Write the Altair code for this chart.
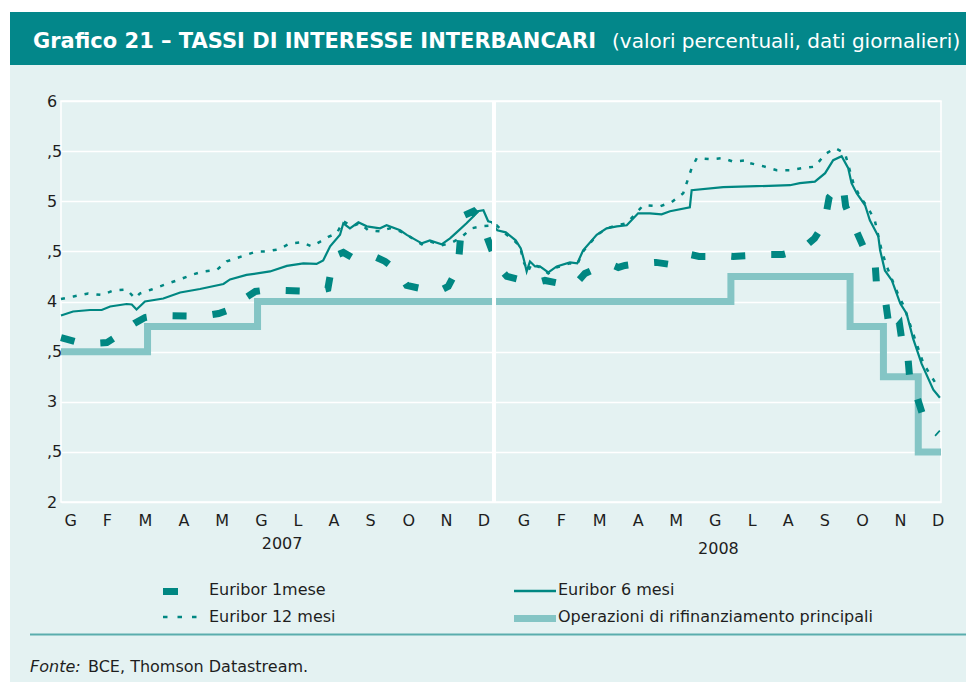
import altair as alt
import pandas as pd

# ---------------- data (x = months since 1 Jan 2007, y = percent) ----------------
e1_m = [0.00, 0.40, 0.80, 1.25, 1.55, 2.00, 2.29, 2.62, 3.44, 3.85, 4.30, 4.61, 4.96, 5.30,
        5.70, 6.05, 6.93, 7.28, 7.40, 7.50, 7.70, 7.93, 8.20, 8.48, 8.84, 9.19, 9.43, 9.80,
        10.20, 10.40, 10.56, 10.83, 10.92, 11.00, 11.25, 11.45, 11.65, 11.92, 12.16, 12.50,
        12.80, 13.00, 13.20, 13.60, 14.02, 14.29, 14.60, 15.00, 15.20, 15.38, 15.80, 16.23,
        16.60, 16.90, 17.15, 17.40, 17.60, 18.00, 18.33, 18.85, 19.30, 19.69, 20.00, 20.30,
        20.55, 20.82, 20.95, 21.15, 21.33, 21.40, 21.60, 21.90, 22.20, 22.25, 22.50, 22.61,
        22.75, 22.87, 22.93, 23.08, 23.15, 23.30, 23.56, 23.92]
e1_v = [3.64, 3.60, 3.58, 3.59, 3.66, 3.78, 3.84, 3.86, 3.855, 3.855, 3.88, 3.92, 4.02, 4.10,
        4.12, 4.11, 4.10, 4.13, 4.38, 4.46, 4.49, 4.44, 4.45, 4.46, 4.40, 4.30, 4.16, 4.13,
        4.15, 4.12, 4.15, 4.34, 4.75, 4.86, 4.90, 4.82, 4.61, 4.35, 4.25, 4.22,
        4.21, 4.19, 4.21, 4.18, 4.17, 4.28, 4.33, 4.37, 4.34, 4.36, 4.38, 4.39,
        4.37, 4.42, 4.47, 4.45, 4.45, 4.46, 4.45, 4.46, 4.47, 4.47, 4.50, 4.55,
        4.63, 4.78, 5.04, 5.13, 5.15, 4.95, 4.78, 4.53, 4.40, 4.12, 3.97, 3.68,
        3.72, 3.77, 3.62, 3.52, 3.22, 3.10, 2.80, 2.68]

e6_m = [0.00, 0.33, 0.79, 1.11, 1.34, 1.79, 1.93, 2.06, 2.29, 2.79, 3.25, 3.79, 4.43, 4.61,
        5.06, 5.70, 6.16, 6.61, 6.97, 7.15, 7.34, 7.61, 7.70, 7.88, 8.11, 8.34, 8.70, 8.88,
        9.25, 9.43, 9.84, 10.06, 10.38, 10.61, 10.79, 11.06, 11.25, 11.36, 11.52, 11.65,
        11.75, 11.90, 12.13, 12.40, 12.54, 12.63, 12.70, 12.79, 12.93, 13.06, 13.29, 13.52,
        13.88, 14.08, 14.24, 14.61, 14.88, 15.16, 15.43, 15.74, 16.06, 16.38, 16.61, 17.15,
        17.20, 18.06, 18.97, 19.88, 20.15, 20.56, 20.84, 21.06, 21.29, 21.47, 21.56, 21.70,
        21.93, 22.06, 22.29, 22.34, 22.47, 22.66, 22.89, 23.06, 23.24, 23.47, 23.79, 23.97]
e6_v = [3.86, 3.90, 3.915, 3.915, 3.95, 3.975, 3.97, 3.92, 4.00, 4.03, 4.09, 4.125, 4.175, 4.22,
        4.265, 4.30, 4.355, 4.38, 4.375, 4.41, 4.55, 4.665, 4.78, 4.73, 4.79, 4.75, 4.73, 4.76,
        4.71, 4.665, 4.58, 4.61, 4.57, 4.63, 4.69, 4.78, 4.85, 4.90, 4.91, 4.80,
        4.79, 4.71, 4.69, 4.61, 4.53, 4.41, 4.30, 4.40, 4.35, 4.35, 4.29, 4.35,
        4.39, 4.38, 4.51, 4.665, 4.73, 4.75, 4.76, 4.88, 4.88, 4.87, 4.90, 4.94,
        5.11, 5.14, 5.15, 5.16, 5.18, 5.195, 5.28, 5.41, 5.45, 5.33, 5.18, 5.08,
        4.96, 4.81, 4.65, 4.51, 4.31, 4.21, 3.98, 3.88, 3.63, 3.38, 3.12, 3.04]

e12_m = [0.00, 0.34, 0.74, 1.11, 1.43, 1.79, 2.02, 2.15, 2.47, 2.88, 3.20, 3.56, 3.88, 4.25,
         4.52, 4.93, 5.34, 5.61, 5.93, 6.25, 6.56, 6.84, 7.06, 7.29, 7.52, 7.70, 7.93, 8.15,
         8.38, 8.70, 8.97, 9.25, 9.52, 9.84, 10.06, 10.38, 10.61, 10.88, 11.20, 11.47, 11.88,
         12.11, 12.38, 12.52, 12.61, 12.74, 12.84, 13.06, 13.29, 13.52, 13.88, 14.08, 14.24,
         14.61, 14.88, 15.16, 15.43, 15.88, 16.34, 16.65, 16.97, 17.20, 17.34, 17.70, 18.06,
         18.33, 18.74, 18.79, 19.15, 19.52, 19.88, 20.20, 20.56, 20.84, 21.11, 21.38, 21.61,
         21.79, 22.02, 22.20, 22.38, 22.51, 22.82, 22.99, 23.24, 23.52, 23.93]
e12_v = [4.025, 4.05, 4.08, 4.065, 4.11, 4.12, 4.03, 4.08, 4.12, 4.175, 4.215, 4.265, 4.30, 4.315,
         4.40, 4.45, 4.50, 4.50, 4.52, 4.58, 4.59, 4.55, 4.595, 4.645, 4.68, 4.80, 4.75, 4.78,
         4.71, 4.70, 4.73, 4.70, 4.645, 4.57, 4.60, 4.56, 4.58, 4.63, 4.73, 4.75, 4.76,
         4.68, 4.60, 4.55, 4.40, 4.30, 4.38, 4.34, 4.28, 4.34, 4.38, 4.37, 4.50,
         4.66, 4.73, 4.76, 4.78, 4.96, 4.95, 4.99, 5.08, 5.33, 5.43, 5.42, 5.43,
         5.395, 5.41, 5.38, 5.35, 5.31, 5.31, 5.33, 5.345, 5.47, 5.53, 5.48, 5.18,
         5.045, 4.93, 4.80, 4.51, 4.36, 4.08, 3.95, 3.68, 3.38, 3.14]

mro_m = [0.00, 2.36, 5.36, 18.27, 21.52, 22.43, 23.38, 24.00]
mro_v = [3.50, 3.75, 4.00, 4.25, 3.75, 3.25, 2.50, 2.50]

month_labels = ["G", "F", "M", "A", "M", "G", "L", "A", "S", "O", "N", "D",
                "G", "F", "M", "A", "M", "G", "L", "A", "S", "O", "N", "D"]
month_pos = [0.25, 1.25, 2.29, 3.34, 4.38, 5.45, 6.45, 7.43, 8.43, 9.47, 10.50, 11.52,
             12.61, 13.63, 14.68, 15.73, 16.76, 17.83, 18.84, 19.82, 20.82, 21.85, 22.88, 23.91]
year_labels = ["2007", "2008"]
year_pos = [6.03, 17.93]
year_break = [11.81]

y_ticks = [2.0, 2.5, 3.0, 3.5, 4.0, 4.5, 5.0, 5.5, 6.0]
y_tick_labels = ["2", ",5", "3", ",5", "4", ",5", "5", ",5", "6"]

series_names = ["Euribor 1mese", "Euribor 6 mesi", "Euribor 12 mesi",
                "Operazioni di rifinanziamento principali"]
title_bold = "Grafico 21 \u2013 TASSI DI INTERESSE INTERBANCARI"
title_rest = "(valori percentuali, dati giornalieri)"
source_lead = "Fonte:"
source_rest = "BCE, Thomson Datastream."

# ---------------- style ----------------
FONT = "DejaVu Sans"
DARK = "#008782"
LIGHT = "#84c5c5"
BAND = "#03878a"
BG = "#e4f2f2"
TXT = "#1e1e1e"
W, H = 880, 401

def pos_expr(vals, labs):
    v = ",".join(repr(float(x)) for x in vals)
    l = ",".join("'" + s + "'" for s in labs)
    return f"[{l}][indexof([{v}], datum.value)]"

x_enc = alt.X("m:Q", scale=alt.Scale(domain=[0, 24], nice=False, zero=False),
              axis=alt.Axis(values=month_pos, labelExpr=pos_expr(month_pos, month_labels),
                            title=None, grid=False, ticks=False, domain=False,
                            labelFont=FONT, labelFontSize=16, labelColor=TXT,
                            labelPadding=18, labelBaseline="middle", labelAngle=0))
y_enc = alt.Y("v:Q", scale=alt.Scale(domain=[2, 6], nice=False, zero=False),
              axis=alt.Axis(values=y_ticks, labelExpr=pos_expr(y_ticks, y_tick_labels),
                            title=None, grid=True, gridColor="white", gridWidth=1.5,
                            gridOpacity=1, ticks=False, domain=False,
                            labelFont=FONT, labelFontSize=16, labelColor=TXT,
                            labelAlign="left", labelPadding=14.5, labelBaseline="middle"))

def df(mx, vy):
    return pd.DataFrame({"m": mx, "v": vy})

one = pd.DataFrame({"k": [0]})

def rect(x, x2, y, y2, color):
    return alt.Chart(one).mark_rect(color=color).encode(
        x=alt.value(x), x2=alt.value(x2), y=alt.value(y), y2=alt.value(y2))

def rule(x, x2, y, color, width, dash=None):
    kw = dict(color=color, strokeWidth=width, strokeCap="butt")
    if dash:
        kw["strokeDash"] = dash
    return alt.Chart(one).mark_rule(**kw).encode(
        x=alt.value(x), x2=alt.value(x2), y=alt.value(y))

def text(s, x, y, size=16, weight="normal", style="normal", color=TXT, baseline="middle"):
    return alt.Chart(pd.DataFrame({"t": [s]})).mark_text(
        font=FONT, fontSize=size, fontWeight=weight, fontStyle=style, color=color,
        align="left", baseline=baseline).encode(
        text="t:N", x=alt.value(x), y=alt.value(y))

# decorations (view coordinates: origin = top-left of plot)
deco = [
    rect(-53, -51, -93, 581, "white"),
    rect(-53, 905, -93, -89, "white"),
    rect(-51, 905, -89, -36, BAND),
    text(title_bold, -28, -53, size=21, weight="bold", color="white", baseline="alphabetic"),
    text(title_rest, 551, -53, size=20, color="white", baseline="alphabetic"),
]

mro = alt.Chart(df(mro_m, mro_v)).mark_line(
    interpolate="step-after", color=LIGHT, strokeWidth=7, strokeCap="butt",
    strokeJoin="miter").encode(x=x_enc, y=y_enc)
e1 = alt.Chart(df(e1_m, e1_v)).mark_line(
    color=DARK, strokeWidth=7, strokeDash=[14, 26], strokeCap="butt").encode(x=x_enc, y=y_enc)
e6 = alt.Chart(df(e6_m, e6_v)).mark_line(
    color=DARK, strokeWidth=2.2).encode(x=x_enc, y=y_enc)
e12 = alt.Chart(df(e12_m, e12_v)).mark_line(
    color=DARK, strokeWidth=2.5, strokeDash=[4, 8], strokeCap="butt").encode(x=x_enc, y=y_enc)

brk = alt.Chart(pd.DataFrame({"m": year_break})).mark_rule(
    color="white", strokeWidth=4).encode(x=x_enc, y=alt.value(0), y2=alt.value(H + 1))

year_layers = [
    alt.Chart(pd.DataFrame({"m": [year_pos[i]], "t": [year_labels[i]]})).mark_text(
        font=FONT, fontSize=16, color=TXT, baseline="middle").encode(
        x=x_enc, y=alt.value(H + off), text="t:N")
    for i, off in enumerate([42, 47])
]

legend = [
    rule(102, 117, 490.5, DARK, 7),
    text(series_names[0], 148, 489),
    rule(102, 137, 516, DARK, 2.5, [4.5, 10]),
    text(series_names[2], 148, 516),
    rule(453, 495, 490, DARK, 2.5),
    text(series_names[1], 497, 489),
    rule(453, 495, 517.5, LIGHT, 7),
    text(series_names[3], 497, 516),
    rule(-31, 905, 533.5, "#5aadad", 2),
    text(source_lead, -31, 566, style="italic"),
    text(source_rest, 27, 566),
]

chart = alt.layer(*deco, mro, e1, e6, e12, brk, *year_layers, *legend).properties(
    width=W, height=H,
    autosize=alt.AutoSizeParams(type="none"),
    padding={"left": 53, "top": 93, "right": 25, "bottom": 180},
    background=BG,
).configure_view(stroke="white", strokeWidth=1.5, fill=None)

chart.save("out.html", embed_options={"renderer": "svg", "actions": False})
